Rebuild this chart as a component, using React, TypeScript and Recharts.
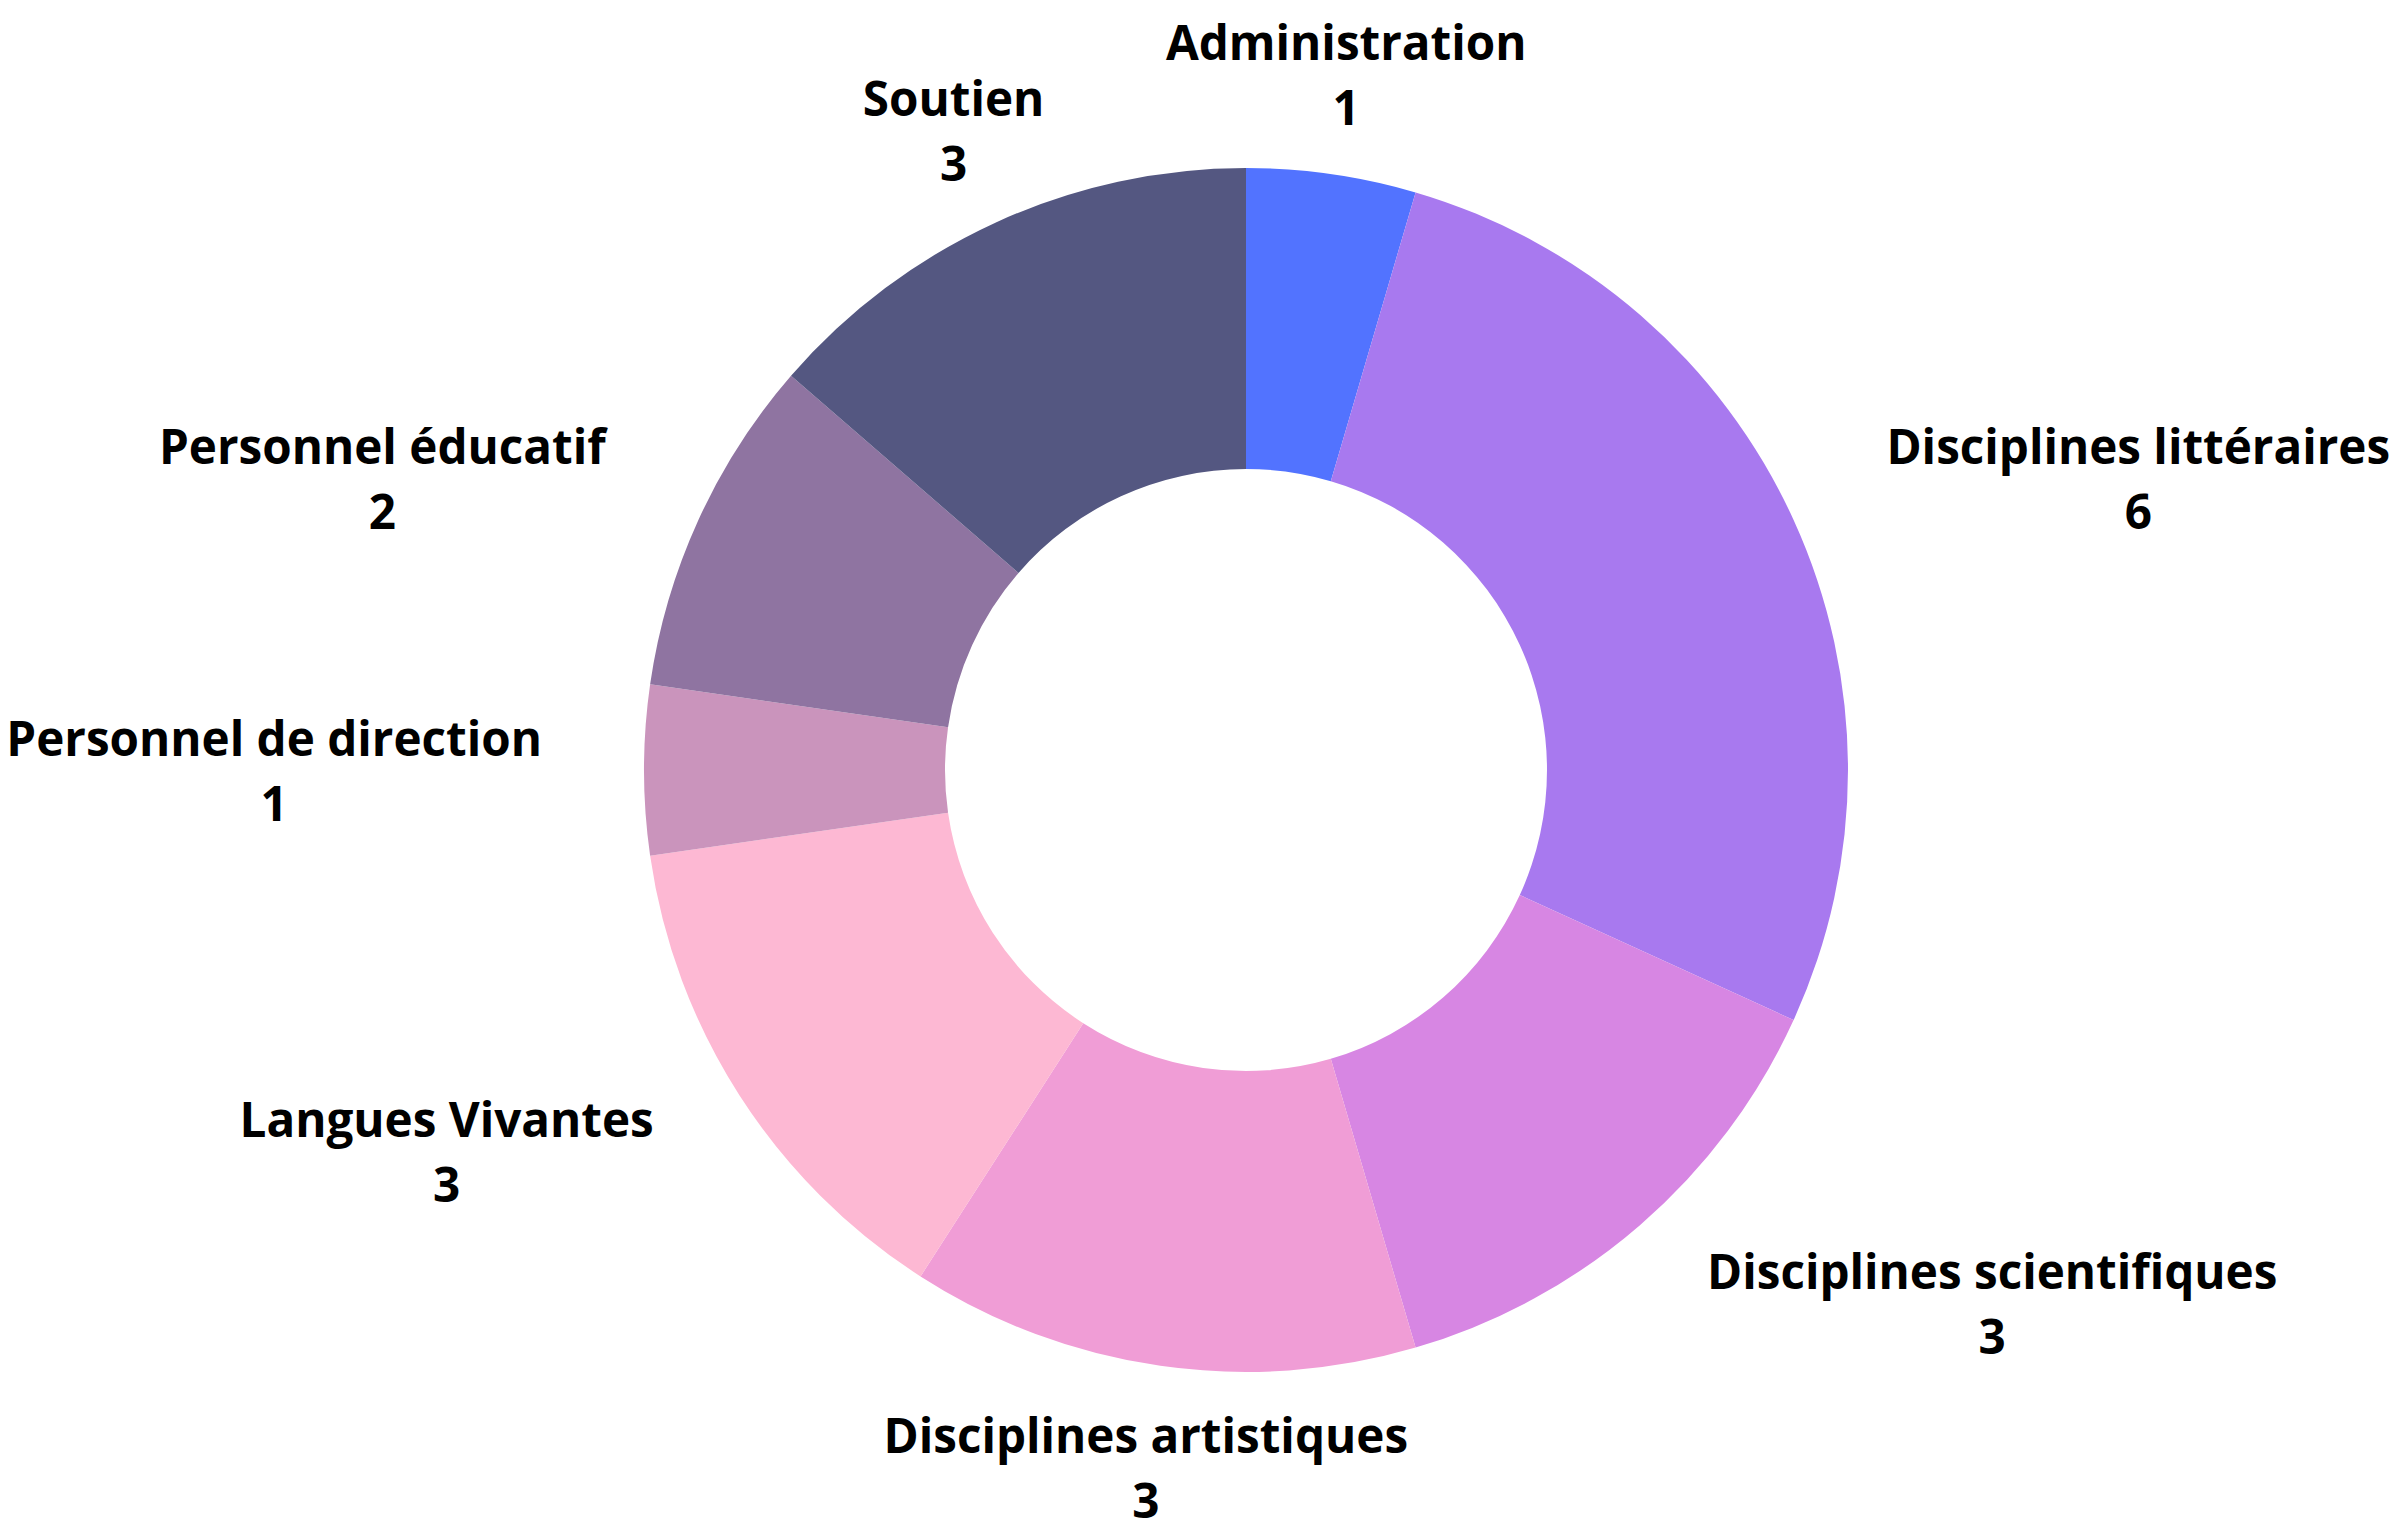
import React from "react";
import { PieChart, Pie, Cell } from "recharts";

const categories = [
  "Administration",
  "Disciplines littéraires",
  "Disciplines scientifiques",
  "Disciplines artistiques",
  "Langues Vivantes",
  "Personnel de direction",
  "Personnel éducatif",
  "Soutien",
];
const values = [1, 6, 3, 3, 3, 1, 2, 3];
const colors = [
  "#5273FF",
  "#A879EF",
  "#D786E3",
  "#F09DD6",
  "#FDB8D3",
  "#CA94BC",
  "#8F74A1",
  "#545781",
];

const data = categories.map((name, i) => ({ name, value: values[i] }));

const RAD = Math.PI / 180;
const FONT = 47.6;
const LINE = 65;
const FONT_FAMILY = "'Open Sans', sans-serif";

let ctx: CanvasRenderingContext2D | null = null;
function measure(text: string): number {
  if (typeof document !== "undefined") {
    if (!ctx) {
      const c = document.createElement("canvas");
      ctx = c.getContext("2d");
    }
    if (ctx) {
      ctx.font = `700 ${FONT}px ${FONT_FAMILY}`;
      return ctx.measureText(text).width;
    }
  }
  return text.length * FONT * 0.55;
}

const renderLabel = (props: any) => {
  const { cx, cy, midAngle, outerRadius, name, value, index } = props;
  const r = outerRadius + 102;
  const cos = Math.cos(-midAngle * RAD);
  const sin = Math.sin(-midAngle * RAD);
  const x = cx + r * cos;
  const y = cy + r * sin + 2;
  const w = Math.max(measure(String(name)), measure(String(value)));
  let bx = x;
  if (cos > 0.5) bx = x + w / 2;
  else if (cos < -0.5) bx = x - w / 2;
  const b1 = y - LINE / 2 + FONT * 0.357;
  const b2 = y + LINE / 2 + FONT * 0.357;
  return (
    <g key={`lbl-${index}`}>
      <text
        x={bx}
        y={b1}
        textAnchor="middle"
        fontFamily={FONT_FAMILY}
        fontWeight={700}
        fontSize={FONT}
        fill="#000"
      >
        {name}
      </text>
      <text
        x={bx}
        y={b2}
        textAnchor="middle"
        fontFamily={FONT_FAMILY}
        fontWeight={700}
        fontSize={FONT}
        fill="#000"
      >
        {value}
      </text>
    </g>
  );
};

export default function App() {
  return (
    <div style={{ position: "absolute", left: 0, top: 0, width: 2400, height: 1520, background: "#fff" }}>
      <PieChart width={2400} height={1520} margin={{ top: 0, right: 0, bottom: 0, left: 0 }}>
        <Pie
          data={data}
          dataKey="value"
          nameKey="name"
          cx={1246}
          cy={770}
          innerRadius={301}
          outerRadius={602}
          startAngle={90}
          endAngle={-270}
          paddingAngle={0}
          stroke="none"
          label={renderLabel}
          labelLine={false}
          isAnimationActive={false}
        >
          {data.map((d, i) => (
            <Cell key={d.name} fill={colors[i]} stroke="none" />
          ))}
        </Pie>
      </PieChart>
    </div>
  );
}
